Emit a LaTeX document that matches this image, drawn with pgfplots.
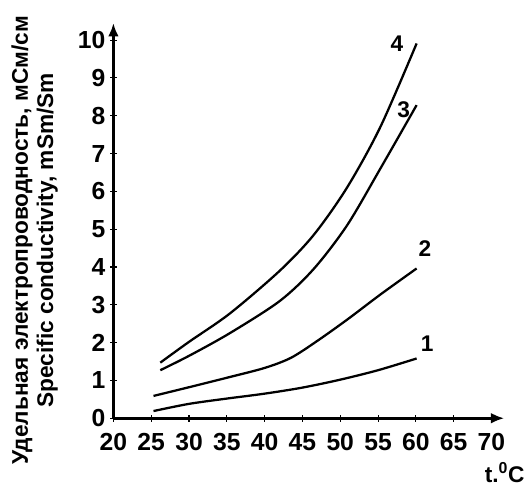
\documentclass[border=0pt]{standalone}
\usepackage{pgfplots}
\pgfplotsset{compat=1.18}
\usetikzlibrary{arrows.meta}
\usepackage{fontspec}
\setmainfont{Liberation Sans}
\begin{document}
\begin{tikzpicture}
\begin{axis}[
  scale only axis,
  width=293.1pt, height=296.3pt,
  xmin=20, xmax=71.7, ymin=0, ymax=10.45,
  axis lines=left,
  axis line style={line width=2pt, -{Latex[length=10pt,width=8pt]}},
  xtick={20,25,...,70}, ytick={0,1,...,10},
  tick align=center, major tick length=5pt,
  tick style={line width=0.8pt, black},
  font=\fontsize{17}{19}\selectfont\bfseries,
  /pgf/number format/assume math mode=true,
  ticklabel style={font=\fontsize{18.5}{20}\selectfont\bfseries},
  xticklabel style={anchor=north, yshift=-5pt, text height=13pt, text depth=0pt},
  ylabel={Удельная электропроводность, мСм/см\\Specific conductivity, mSm/Sm},
  ylabel style={align=center, font=\fontsize{17}{19}\selectfont\bfseries,
    at={(axis description cs:-0.2016,0.45)}, anchor=center},
  clip=false,
]
  \addplot[line width=1.7pt, smooth, tension=0.5] coordinates
    {(25.3,0.19)(30,0.38)(35,0.52)(40,0.65)(45,0.81)(50,1.02)(55,1.27)(60.1,1.58)};
  \addplot[line width=1.7pt, smooth, tension=0.5] coordinates
    {(25.3,0.59)(30,0.82)(35,1.07)(40,1.33)(43.5,1.6)(47,2.05)(51,2.62)(55.3,3.27)(60.1,3.96)};
  \addplot[line width=1.7pt, smooth, tension=0.5] coordinates
    {(26.2,1.27)(30,1.65)(35.4,2.25)(42,3.1)(46.5,3.95)(50.9,5.1)(55.3,6.6)(60.1,8.28)};
  \addplot[line width=1.7pt, smooth, tension=0.5] coordinates
    {(26.2,1.47)(30,2.02)(35.4,2.77)(42,3.9)(46.5,4.85)(50.9,6.1)(55.3,7.7)(60.1,9.91)};
  \node at (axis cs:61.5,1.96) {1};
  \node at (axis cs:61.2,4.49) {2};
  \node at (axis cs:58.4,8.15) {3};
  \node at (axis cs:57.5,9.91) {4};
  \node[anchor=base east, inner sep=0pt] at (axis cs:74.4,-1.69) {t.\textsuperscript{0}C};
  \coordinate (bl) at (axis cs:5.0,-1.77);
  \coordinate (tr) at (axis cs:74.7,11.06);
\end{axis}
\path (bl) rectangle (tr);
\end{tikzpicture}
\end{document}
